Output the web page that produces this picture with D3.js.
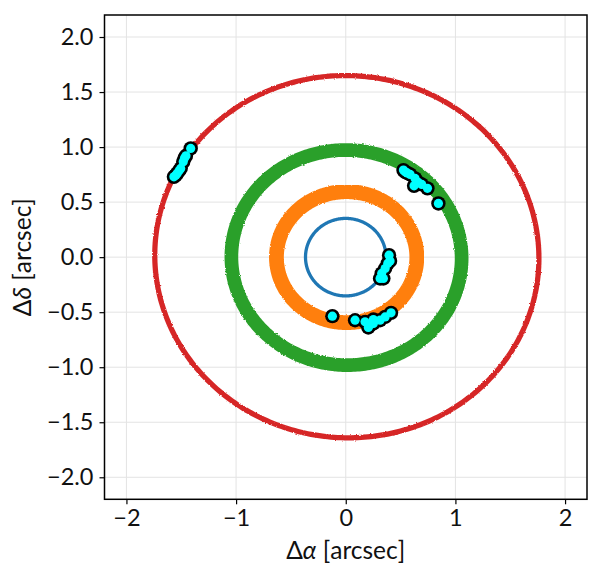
<!DOCTYPE html>
<html><head><meta charset="utf-8">
<script src="https://cdn.jsdelivr.net/npm/d3@7"></script>
<style>
body{margin:0;background:#fff;}
text{font-family:Lato,"DejaVu Sans",sans-serif;fill:#111;font-weight:400;}
</style></head>
<body><svg id="chart" width="604" height="573"></svg>
<script>
// ---- data ----
const xTicks = [-2, -1, 0, 1, 2];
const yTicks = [-2.0, -1.5, -1.0, -0.5, 0.0, 0.5, 1.0, 1.5, 2.0];
const xDomain = [-2.2, 2.2];
const yDomain = [-2.2, 2.2];

const orbitNames  = ["b", "c", "d", "e"];
const orbitColors = ["#d62728", "#2ca02c", "#ff7f0e", "#1f77b4"];
const orbitCx     = [0.010, 0.007, 0.008, 0.000];
const orbitCy     = [0.004, -0.004, 0.000, 0.000];
const orbitA      = [1.752, 1.050, 0.640, 0.367];
const orbitB      = [1.645, 0.977, 0.595, 0.352];
const orbitRotDeg = [-4, -3, 0, 0];
const orbitWidth  = [0.048, 0.125, 0.135, 0.030];

const astroB = [[-1.414,0.988],[-1.457,0.921],[-1.470,0.900],[-1.482,0.866],[-1.505,0.806],[-1.520,0.785],[-1.537,0.761],[-1.550,0.745],[-1.567,0.730]];
const astroC = [[0.526,0.791],[0.541,0.775],[0.560,0.765],[0.587,0.752],[0.632,0.715],[0.623,0.648],[0.660,0.680],[0.693,0.661],[0.745,0.625],[0.845,0.488]];
const astroD = [[-0.122,-0.536],[0.085,-0.573],[0.176,-0.588],[0.206,-0.639],[0.230,-0.610],[0.252,-0.603],[0.252,-0.567],[0.313,-0.573],[0.359,-0.543],[0.413,-0.506]];
const astroE = [[0.395,0.018],[0.404,-0.034],[0.383,-0.057],[0.359,-0.103],[0.328,-0.148],[0.313,-0.194],[0.343,-0.194]];
const astrometry = [astroB, astroC, astroD, astroE];

// ---- layout ----
const pL = 104.5, pR = 587, pT = 15, pB = 499.3;
const svg = d3.select("#chart");
const x = d3.scaleLinear().domain(xDomain).range([pL, pR]);
const y = d3.scaleLinear().domain(yDomain).range([pB, pT]);

const defs = svg.append("defs");
defs.append("clipPath").attr("id","clip").append("rect")
  .attr("x", pL).attr("y", pT).attr("width", pR-pL).attr("height", pB-pT);
const f = defs.append("filter").attr("id","rough").attr("x","-5%").attr("y","-5%").attr("width","110%").attr("height","110%");
f.append("feTurbulence").attr("type","fractalNoise").attr("baseFrequency","0.9").attr("numOctaves","1").attr("seed","3").attr("result","noise");
f.append("feDisplacementMap").attr("in","SourceGraphic").attr("in2","noise").attr("scale","2.6").attr("xChannelSelector","R").attr("yChannelSelector","G");

// grid
const grid = svg.append("g");
grid.selectAll(".gx").data(xTicks).join("line")
  .attr("x1", d=>x(d)).attr("x2", d=>x(d)).attr("y1", pT).attr("y2", pB)
  .attr("stroke", "#e3e3e3").attr("stroke-width", 1);
grid.selectAll(".gy").data(yTicks).join("line")
  .attr("y1", d=>y(d)).attr("y2", d=>y(d)).attr("x1", pL).attr("x2", pR)
  .attr("stroke", "#e3e3e3").attr("stroke-width", 1);

// orbits
const plot = svg.append("g").attr("clip-path","url(#clip)");
const line = d3.line().x(d=>x(d[0])).y(d=>y(d[1])).curve(d3.curveLinearClosed);
const N = 360;
orbitNames.forEach((name, i) => {
  const rot = orbitRotDeg[i] * Math.PI / 180;
  const pts = d3.range(N).map(k => {
    const t = 2*Math.PI*k/N;
    const ex = orbitA[i]*Math.cos(t), ey = orbitB[i]*Math.sin(t);
    return [orbitCx[i] + ex*Math.cos(rot) - ey*Math.sin(rot),
            orbitCy[i] + ex*Math.sin(rot) + ey*Math.cos(rot)];
  });
  plot.append("path").datum(pts).attr("d", line)
    .attr("fill","none").attr("stroke", orbitColors[i])
    .attr("stroke-width", x(orbitWidth[i]) - x(0))
    .attr("filter", i < 3 ? "url(#rough)" : null);
});

// astrometry
astrometry.forEach(arr => {
  const g = plot.append("g");
  g.selectAll(".o").data(arr).join("circle")
    .attr("cx", d=>x(d[0])).attr("cy", d=>y(d[1])).attr("r", 7.2).attr("fill","#000");
  g.selectAll(".i").data(arr).join("circle")
    .attr("cx", d=>x(d[0])).attr("cy", d=>y(d[1])).attr("r", 4.6).attr("fill","#00ffff");
});

// axes
const fmtX = d => (d < 0 ? "\u2212" : "") + Math.abs(d);
const fmtY = d => (d < 0 ? "\u2212" : "") + Math.abs(d).toFixed(1);
const xAxis = svg.append("g").attr("transform", `translate(0,${pB})`)
  .call(d3.axisBottom(x).tickValues(xTicks).tickFormat(fmtX).tickSize(5).tickPadding(5));
const yAxis = svg.append("g").attr("transform", `translate(${pL},0)`)
  .call(d3.axisLeft(y).tickValues(yTicks).tickFormat(fmtY).tickSize(5).tickPadding(6));
[xAxis, yAxis].forEach(a => {
  a.select(".domain").remove();
  a.selectAll(".tick line").attr("stroke","#000").attr("stroke-width",1.2);
  a.selectAll(".tick text").attr("font-size", 23.5).attr("fill","#111")
    .style("font-family","Lato, 'DejaVu Sans', sans-serif").style("font-weight", 400);
});
svg.append("rect").attr("x", pL).attr("y", pT).attr("width", pR-pL).attr("height", pB-pT)
  .attr("fill","none").attr("stroke","#000").attr("stroke-width",1.5);

// labels
const xl = svg.append("text").attr("x", (pL+pR)/2).attr("y", 559)
  .attr("text-anchor","middle").attr("font-size", 24.5);
xl.append("tspan").text("\u0394");
xl.append("tspan").attr("font-style","italic").text("\u03b1");
xl.append("tspan").text(" [arcsec]");

const yl = svg.append("text").attr("transform", `translate(31,${(pT+pB)/2}) rotate(-90)`)
  .attr("text-anchor","middle").attr("font-size", 24.5);
yl.append("tspan").text("\u0394");
yl.append("tspan").attr("font-style","italic").text("\u03b4");
yl.append("tspan").text(" [arcsec]");
</script></body></html>
